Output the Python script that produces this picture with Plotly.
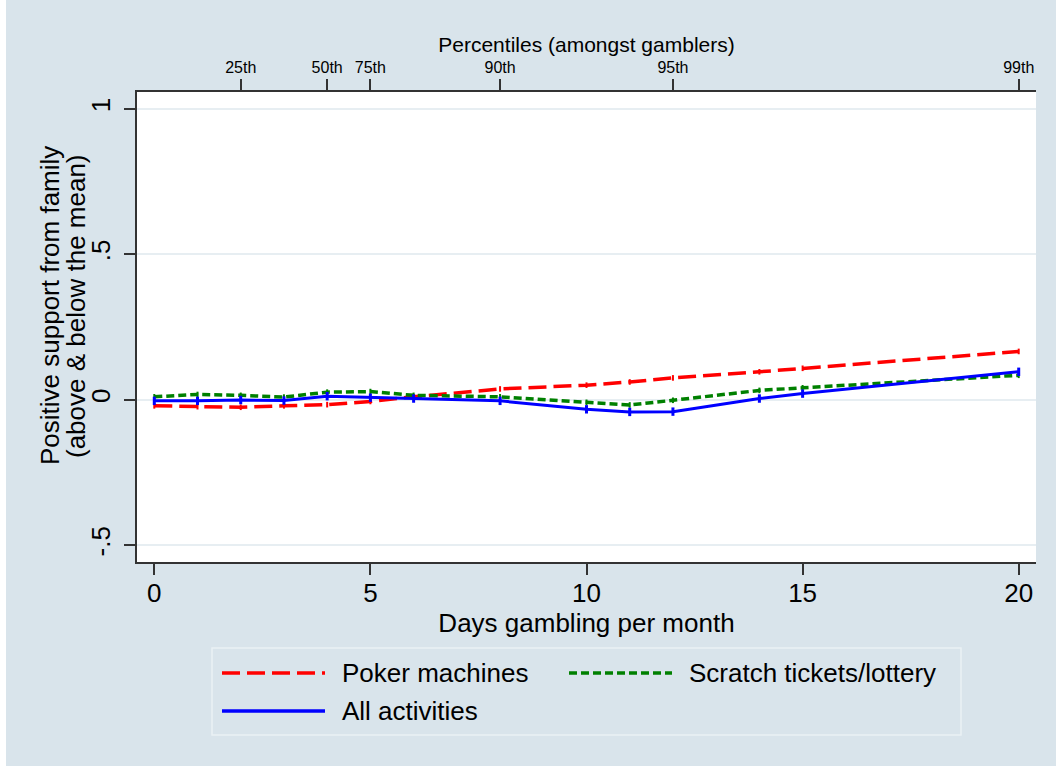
import plotly.graph_objects as go

# Days gambling per month (evaluation points)
days = [0, 1, 2, 3, 4, 5, 6, 8, 10, 11, 12, 14, 15, 20]

# Positive support from family, deviation from the mean
poker = [-0.021, -0.024, -0.026, -0.021, -0.017, -0.006, 0.010, 0.037, 0.050, 0.061, 0.075, 0.096, 0.108, 0.166]
scratch = [0.010, 0.018, 0.015, 0.009, 0.026, 0.028, 0.015, 0.010, -0.009, -0.018, -0.002, 0.032, 0.041, 0.084]
all_act = [-0.004, -0.004, -0.001, -0.003, 0.012, 0.007, 0.004, -0.004, -0.033, -0.042, -0.041, 0.004, 0.021, 0.096]

# Percentile markers on the top axis
pct_days = [2, 4, 5, 8, 12, 20]
pct_labels = ["25th", "50th", "75th", "90th", "95th", "99th"]

y_ticks = [-0.5, 0, 0.5, 1]
y_labels = ["-.5", "0", ".5", "1"]
x_ticks = [0, 5, 10, 15, 20]

BG = "#d9e4eb"
GRID = "#e7eef2"
AXIS = "#333333"
FONT = "Liberation Sans, Arial, sans-serif"

W, H = 1056, 766
L, R, T, B = 137, 20, 92, 204
PW, PH = W - L - R, H - T - B


def px(xp):
    return (xp - L) / PW


def py(yp):
    return (H - B - yp) / PH


fig = go.Figure()

fig.add_trace(go.Scatter(
    x=days, y=poker, mode="lines+markers", name="Poker machines",
    line=dict(color="#ff0000", width=3.5, dash="18px,7px"),
    marker=dict(symbol="line-ns", size=4, line=dict(color="#ff0000", width=2)),
))
fig.add_trace(go.Scatter(
    x=days, y=scratch, mode="lines+markers", name="Scratch tickets/lottery",
    line=dict(color="#008000", width=3.5, dash="8px,4px"),
    marker=dict(symbol="line-ns", size=4, line=dict(color="#008000", width=2)),
))
fig.add_trace(go.Scatter(
    x=days, y=all_act, mode="lines+markers", name="All activities",
    line=dict(color="#0000ff", width=3),
    marker=dict(symbol="line-ns", size=6, line=dict(color="#0000ff", width=3)),
))
# invisible trace that activates the top percentile axis
fig.add_trace(go.Scatter(x=pct_days, y=[None] * len(pct_days), xaxis="x2",
                         mode="markers", showlegend=False, hoverinfo="skip"))

fig.update_layout(
    width=W, height=H,
    margin=dict(l=L, r=R, t=T, b=B),
    paper_bgcolor=BG, plot_bgcolor="white",
    font=dict(family=FONT, color="black"),
    showlegend=False,
    xaxis=dict(
        range=[-0.4, 20.4], tickvals=x_ticks, ticks="outside", ticklen=11,
        tickwidth=1.5, tickcolor=AXIS, showgrid=False, zeroline=False,
        showline=True, linecolor=AXIS, linewidth=1.5,
        tickfont=dict(size=26, family=FONT), ticklabelstandoff=-4,
        title=dict(text="Days gambling per month", font=dict(size=26, family=FONT), standoff=0),
    ),
    xaxis2=dict(
        overlaying="x", side="top", matches="x", range=[-0.4, 20.4],
        tickvals=pct_days, ticktext=pct_labels, ticks="outside", ticklen=11,
        tickwidth=1.5, tickcolor=AXIS, showgrid=False, zeroline=False,
        showline=True, linecolor=AXIS, linewidth=1.5,
        tickfont=dict(size=16, family=FONT),
        title=dict(text="Percentiles (amongst gamblers)", font=dict(size=21, family=FONT), standoff=0),
    ),
    yaxis=dict(
        range=[-0.558, 1.058], tickvals=y_ticks, ticktext=y_labels, tickangle=-90,
        ticks="outside", ticklen=11, tickwidth=1.5, tickcolor=AXIS,
        showgrid=True, gridcolor=GRID, gridwidth=2, zeroline=False,
        showline=True, linecolor=AXIS, linewidth=1.5,
        tickfont=dict(size=26, family=FONT), ticklabelstandoff=4,
    ),
)

# y-axis title, two rotated lines
for text, xp in [("Positive support from family", 50), ("(above & below the mean)", 76)]:
    fig.add_annotation(text=text, xref="paper", yref="paper", x=px(xp), y=py(306),
                       textangle=-90, showarrow=False, xanchor="center", yanchor="middle",
                       font=dict(size=26, family=FONT))

# thin white strip at the left edge of the graph region
fig.add_shape(type="rect", xref="paper", yref="paper", x0=px(0), x1=px(6), y0=py(H), y1=py(0),
              fillcolor="white", line=dict(width=0), layer="above")

# legend box
fig.add_shape(type="rect", xref="paper", yref="paper", x0=px(212), x1=px(961), y0=py(735), y1=py(648),
              fillcolor=BG, line=dict(color="#eaf1f5", width=1.5))

legend_items = [
    ("Poker machines", "#ff0000", "18px,7px", 222, 340, 673),
    ("Scratch tickets/lottery", "#008000", "8px,4px", 569, 687, 673),
    ("All activities", "#0000ff", "solid", 222, 340, 711),
]
for label, color, dash, x0, xt, yc in legend_items:
    fig.add_shape(type="line", xref="paper", yref="paper", x0=px(x0), x1=px(x0 + 103),
                  y0=py(yc), y1=py(yc), line=dict(color=color, width=3.5, dash=dash))
    fig.add_annotation(text=label, xref="paper", yref="paper", x=px(xt), y=py(yc),
                       showarrow=False, xanchor="left", yanchor="middle",
                       font=dict(size=26, family=FONT))

fig.write_html("out.html")
